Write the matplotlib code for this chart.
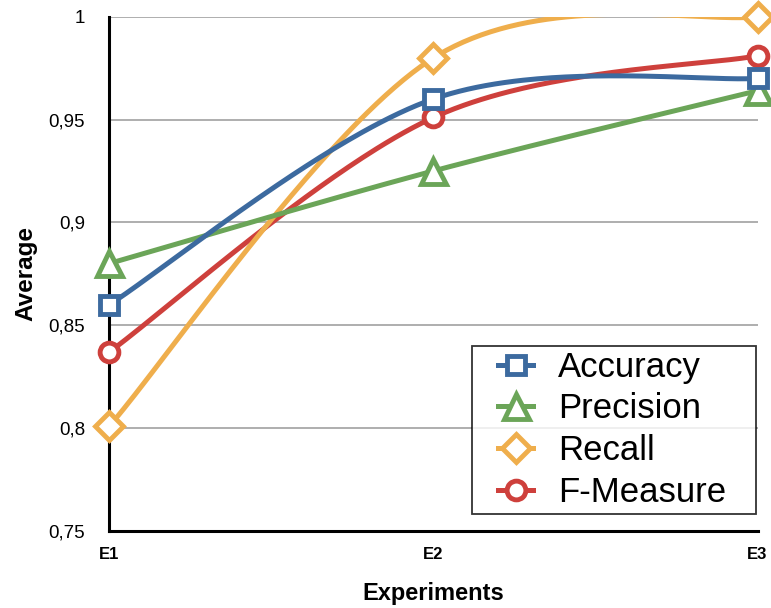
import numpy as np
import matplotlib
matplotlib.use("Agg")
import matplotlib.pyplot as plt
from matplotlib.lines import Line2D
from matplotlib.legend_handler import HandlerLine2D
from matplotlib.ticker import FixedLocator, FuncFormatter

experiments = ["E1", "E2", "E3"]
accuracy = [0.860, 0.960, 0.970]
precision = [0.880, 0.925, 0.964]
recall = [0.801, 0.980, 1.000]
fmeasure = [0.837, 0.951, 0.981]
series_names = ["Accuracy", "Precision", "Recall", "F-Measure"]
y_ticks = [0.75, 0.8, 0.85, 0.9, 0.95, 1.0]

colors = ["#3C6A9F", "#6BA558", "#EFAE4C", "#CE403C"]
markers = ["s", "^", "D", "o"]
msizes = [13.5, 18, 14, 13.5]
LW = 3.6
MEW = 3.5

plt.rcParams['font.family'] = ['Liberation Sans', 'DejaVu Sans']


def smooth(xs, ys, n=80):
    pts = np.column_stack([xs, ys]).astype(float)
    out = []
    m = len(pts)
    for i in range(m - 1):
        p0 = pts[i - 1] if i > 0 else pts[i]
        p1 = pts[i]
        p2 = pts[i + 1]
        p3 = pts[i + 2] if i + 2 < m else pts[i + 1]
        c1 = p1 + (p2 - p0) / 6.0
        c2 = p2 - (p3 - p1) / 6.0
        t = np.linspace(0, 1, n)[:, None]
        seg = ((1 - t) ** 3) * p1 + 3 * ((1 - t) ** 2) * t * c1 + 3 * (1 - t) * t ** 2 * c2 + t ** 3 * p2
        out.append(seg if i == 0 else seg[1:])
    arr = np.vstack(out)
    return arr[:, 0], arr[:, 1]


class PadHandler(HandlerLine2D):
    def __init__(self, lpad, **kw):
        super().__init__(**kw)
        self.lpad = lpad

    def get_xdata(self, legend, xdescent, ydescent, width, height, fontsize):
        x0 = -xdescent + self.lpad * fontsize
        x1 = -xdescent + width
        return np.array([x0, x1]), np.array([(x0 + x1) / 2.0])


fig = plt.figure(figsize=(7.71, 6.08), dpi=100)
ax = fig.add_axes([0.142, 0.1271, 0.8405, 0.8454])

x = np.arange(len(experiments))
data = [accuracy, precision, recall, fmeasure]

order = [3, 2, 1, 0]
for k, i in enumerate(order):
    sx, sy = smooth(x, data[i])
    ax.plot(sx, sy, color=colors[i], lw=LW, zorder=3 + k, solid_capstyle='round')
for k, i in enumerate(order):
    ax.plot(x, data[i], linestyle='none', marker=markers[i], ms=msizes[i],
            mfc='white', mec=colors[i], mew=MEW, zorder=10 + k, clip_on=False)

ax.set_xlim(0, 2)
ax.set_ylim(0.75, 1.0)
ax.yaxis.set_major_locator(FixedLocator(y_ticks))
ax.yaxis.set_major_formatter(FuncFormatter(lambda v, p: ("%g" % v).replace(".", ",")))
ax.set_xticks(x)
ax.set_xticklabels(experiments, fontsize=12, fontweight='bold')
ax.tick_params(axis='both', length=0)
ax.tick_params(axis='y', labelsize=13.5, pad=17.5)
ax.tick_params(axis='x', pad=12)
ax.grid(axis='y', color='#A8A8A8', lw=1.3)
ax.set_axisbelow(True)
for s in ['top', 'right']:
    ax.spines[s].set_visible(False)
for s in ['left', 'bottom']:
    ax.spines[s].set_linewidth(2.2)
    ax.spines[s].set_color('black')
    ax.spines[s].set_zorder(2.5)

ax.set_xlabel("Experiments", fontsize=17, fontweight='bold', labelpad=14)
ax.set_ylabel("Average", fontsize=17.5, fontweight='bold', labelpad=8)

handles = [Line2D([0], [0], color=colors[i], lw=LW, marker=markers[i], ms=msizes[i],
                  mfc='white', mec=colors[i], mew=MEW) for i in range(4)]
hmap = {h: PadHandler(0.6) for h in handles}
leg = ax.legend(handles, series_names, loc='lower left',
                bbox_to_anchor=(0.5594, 0.0325, 0.4383, 0.33), mode='expand',
                fontsize=25, frameon=True, fancybox=False, edgecolor='black',
                handlelength=1.61, handletextpad=0.72, labelspacing=0.25, borderpad=0.15,
                borderaxespad=0, handler_map=hmap)
leg.get_frame().set_linewidth(1.3)
leg.set_zorder(20)

fig.savefig("out.png", dpi=100)
